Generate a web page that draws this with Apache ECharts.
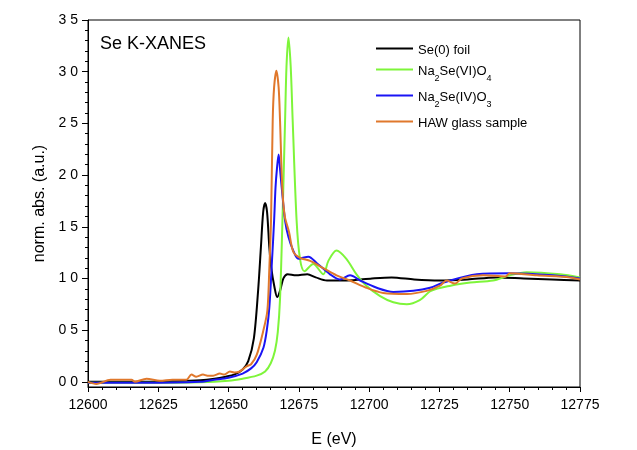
<!DOCTYPE html>
<html>
<head>
<meta charset="utf-8">
<script src="https://cdn.jsdelivr.net/npm/echarts@6/dist/echarts.min.js"></script>
<style>html,body{margin:0;padding:0;background:#fff;}#c{width:637px;height:450px;}</style>
</head>
<body>
<div id="c"></div>
<script>
// ---- data ----
var seriesNames = ['Se(0) foil', 'Na2Se(VI)O4', 'Na2Se(IV)O3', 'HAW glass sample'];

var foilE = [12600, 12610, 12620, 12630, 12640, 12645, 12649, 12652, 12655, 12657, 12659, 12660.5, 12661.5, 12662.3, 12663, 12663.7, 12664.5, 12665.2, 12666.3, 12667.3, 12668.3, 12669.5, 12671, 12674, 12678, 12681, 12685, 12692, 12701, 12708, 12716, 12725, 12735, 12745, 12755, 12765, 12775];
var foilY = [0, 0, 0, 0.005, 0.015, 0.03, 0.05, 0.07, 0.12, 0.2, 0.42, 0.88, 1.3, 1.64, 1.73, 1.64, 1.3, 1.1, 0.92, 0.82, 0.88, 1.0, 1.04, 1.03, 1.04, 1.01, 0.98, 0.98, 1.0, 1.01, 0.99, 0.98, 0.99, 1.01, 1.0, 0.99, 0.98];

var selenateE = [12600, 12620, 12640, 12650, 12655, 12660, 12663, 12665, 12666.5, 12667.5, 12668.3, 12669.1, 12670.1, 12670.6, 12671.3, 12672.1, 12672.8, 12674.2, 12675.4, 12677, 12680.1, 12683.7, 12685.5, 12688.4, 12691.9, 12695.5, 12699, 12703.9, 12708.6, 12713.4, 12718, 12722, 12729, 12736, 12744, 12750, 12756, 12768, 12775];
var selenateY = [-0.01, -0.01, -0.005, 0.01, 0.03, 0.06, 0.1, 0.18, 0.3, 0.48, 0.8, 1.5, 2.53, 3.05, 3.33, 3.05, 2.53, 1.56, 1.19, 1.07, 1.14, 1.04, 1.17, 1.27, 1.19, 1.04, 0.93, 0.83, 0.77, 0.75, 0.79, 0.88, 0.93, 0.96, 0.98, 1.03, 1.06, 1.04, 1.01];

var seleniteE = [12600, 12620, 12640, 12645, 12650, 12655, 12658, 12660, 12662.4, 12663.6, 12664.5, 12665.4, 12666.2, 12666.7, 12667.2, 12667.8, 12668.3, 12668.9, 12670.1, 12671.3, 12673, 12674.8, 12678.4, 12681.3, 12686.1, 12689.6, 12693.2, 12696.8, 12702.7, 12708.6, 12715.7, 12721.7, 12726.4, 12738.3, 12750, 12765.4, 12775];
var seleniteY = [-0.01, -0.01, 0.0, 0.02, 0.04, 0.08, 0.13, 0.19, 0.33, 0.5, 0.72, 1.15, 1.56, 1.88, 2.06, 2.2, 2.06, 1.88, 1.56, 1.4, 1.27, 1.19, 1.21, 1.15, 1.04, 0.99, 1.03, 0.98, 0.91, 0.87, 0.88, 0.91, 0.96, 1.04, 1.05, 1.03, 1.0];

var glassE = [12600, 12603, 12608, 12612, 12615.5, 12616.7, 12620.8, 12625.6, 12630, 12635, 12636.8, 12638.5, 12640.9, 12642.5, 12644.5, 12646.9, 12648.5, 12650.5, 12652, 12654, 12656.4, 12658, 12660, 12662.4, 12663.8, 12664.5, 12665.1, 12665.7, 12666.2, 12667, 12667.8, 12668.3, 12669.1, 12670, 12671.5, 12673, 12675.4, 12679, 12683.7, 12688.4, 12693.2, 12699, 12705, 12713.4, 12720.5, 12725.2, 12727.6, 12730.5, 12733, 12740.6, 12748.5, 12750, 12759.6, 12771.5, 12775];
var glassY = [0, -0.02, 0.02, 0.02, 0.02, 0.0, 0.03, 0.01, 0.02, 0.02, 0.07, 0.05, 0.07, 0.06, 0.06, 0.08, 0.07, 0.1, 0.09, 0.1, 0.15, 0.17, 0.26, 0.5, 0.69, 1.1, 1.56, 2.53, 2.85, 3.01, 2.85, 2.53, 1.88, 1.6, 1.45, 1.26, 1.2, 1.17, 1.1, 1.03, 0.98, 0.91, 0.86, 0.85, 0.88, 0.93, 0.98, 0.95, 1.0, 1.03, 1.02, 1.05, 1.03, 1.01, 0.99];

var yTicks = [0, 0.5, 1, 1.5, 2, 2.5, 3, 3.5];
var yTickLabels = ['0 0', '0 5', '1 0', '1 5', '2 0', '2 5', '3 0', '3 5'];
var yMinorTicks = [0.1, 0.2, 0.3, 0.4, 0.6, 0.7, 0.8, 0.9, 1.1, 1.2, 1.3, 1.4, 1.6, 1.7, 1.8, 1.9, 2.1, 2.2, 2.3, 2.4, 2.6, 2.7, 2.8, 2.9, 3.1, 3.2, 3.3, 3.4];

// ---- chart ----
function pairs(xs, ys) { return xs.map(function (x, i) { return [x, ys[i]]; }); }
var FONT = 'Liberation Sans, Arial, sans-serif';
var chart = echarts.init(document.getElementById('c'), null, { renderer: 'canvas' });

var legendFmt = {
  'Se(0) foil': '{t|Se(0) foil}',
  'Na2Se(VI)O4': '{t|Na}{s|2}{t|Se(VI)O}{s|4}',
  'Na2Se(IV)O3': '{t|Na}{s|2}{t|Se(IV)O}{s|3}',
  'HAW glass sample': '{t|HAW glass sample}'
};

var colors = ['#000000', '#7ef53a', '#1a14f5', '#e0782c'];
var dataSets = [pairs(foilE, foilY), pairs(selenateE, selenateY), pairs(seleniteE, seleniteY), pairs(glassE, glassY)];

chart.setOption({
  animation: false,
  backgroundColor: '#fff',
  textStyle: { fontFamily: FONT },
  grid: { left: 88, right: 57, top: 20, bottom: 63, outerBoundsMode: 'none', containLabel: false, show: true, borderColor: '#000', borderWidth: 1, backgroundColor: 'transparent' },
  xAxis: {
    type: 'value', min: 12600, max: 12775, interval: 25,
    name: 'E (eV)', nameLocation: 'middle', nameGap: 45,
    nameTextStyle: { fontSize: 16, color: '#000', fontFamily: FONT },
    axisLine: { show: true, onZero: false, lineStyle: { color: '#000', width: 1 } },
    axisTick: { show: true, inside: false, length: 5, lineStyle: { color: '#000' } },
    minorTick: { show: true, splitNumber: 5, length: 3, lineStyle: { color: '#000' } },
    axisLabel: { fontSize: 14, color: '#000', margin: 11, fontFamily: FONT, formatter: function (v) { return String(v); } },
    splitLine: { show: false }
  },
  yAxis: [{
    type: 'value', min: -0.05, max: 3.5,
    name: 'norm. abs. (a.u.)', nameLocation: 'middle', nameGap: 39, nameRotate: 90,
    nameTextStyle: { fontSize: 16, color: '#000', fontFamily: FONT },
    axisLine: { show: true, onZero: false, lineStyle: { color: '#000', width: 1 } },
    axisTick: { show: true, inside: false, length: 6, customValues: yTicks, lineStyle: { color: '#000' } },
    axisLabel: {
      fontSize: 14, color: '#000', margin: 10, fontFamily: FONT, customValues: yTicks,
      formatter: function (v) { var i = yTicks.indexOf(Math.round(v * 10) / 10); return i >= 0 ? yTickLabels[i] : ''; }
    },
    splitLine: { show: false }
  }, {
    type: 'value', min: -0.05, max: 3.5, position: 'left', offset: 0,
    axisLine: { show: false },
    axisTick: { show: true, inside: false, length: 3, customValues: yMinorTicks, lineStyle: { color: '#000' } },
    axisLabel: { show: false },
    splitLine: { show: false }
  }],
  legend: {
    orient: 'vertical', left: 371, top: 39,
    itemWidth: 37, itemHeight: 2, itemGap: 8, icon: 'rect',
    data: seriesNames,
    formatter: function (n) { return legendFmt[n]; },
    textStyle: {
      color: '#000', fontFamily: FONT,
      rich: {
        t: { fontSize: 13, lineHeight: 17, color: '#000', fontFamily: FONT, verticalAlign: 'bottom' },
        s: { fontSize: 9, lineHeight: 11, color: '#000', fontFamily: FONT, verticalAlign: 'bottom', padding: [0, 0, -5, 0] }
      }
    }
  },
  graphic: [{
    type: 'text', left: 100, top: 35,
    style: { text: 'Se K-XANES', font: '18px ' + FONT, fill: '#000' }
  }],
  series: seriesNames.map(function (n, i) {
    return {
      name: n, type: 'line', data: dataSets[i], yAxisIndex: 0,
      showSymbol: false, smooth: 0.3,
      lineStyle: { color: colors[i], width: 2 }, itemStyle: { color: colors[i] },
      z: 2 + i
    };
  })
});
</script>
</body>
</html>
